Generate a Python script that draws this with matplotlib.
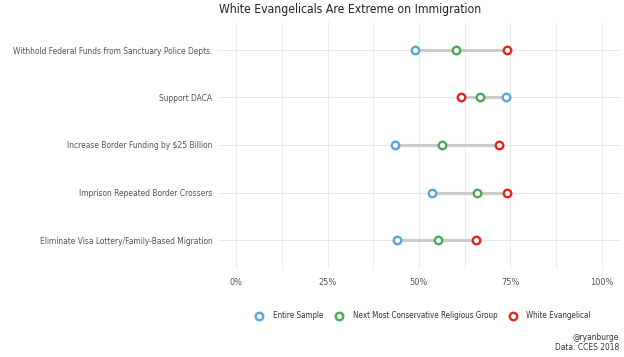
import matplotlib
matplotlib.use('Agg')
import matplotlib.pyplot as plt
from matplotlib.lines import Line2D

plt.rcParams['font.family'] = ['DejaVu Sans']
plt.rcParams['font.stretch'] = 'condensed'

# ── Data ─────────────────────────────────────────────────────────────────────
questions = [
    'Withhold Federal Funds from Sanctuary Police Depts.',
    'Support DACA',
    'Increase Border Funding by $25 Billion',
    'Imprison Repeated Border Crossers',
    'Eliminate Visa Lottery/Family-Based Migration',
]
entire_sample = [48.8, 73.8, 43.5, 53.6, 44.1]
next_conservative = [60.1, 66.6, 56.4, 66.0, 55.2]
white_evangelical = [74.0, 61.5, 72.0, 74.0, 65.5]

series_names = ['Entire Sample', 'Next Most Conservative Religious Group',
                'White Evangelical']
series_colors = ['#55a8d6', '#4ea65a', '#e0261f']
tick_vals = [0, 25, 50, 75, 100]
tick_labels = ['0%', '25%', '50%', '75%', '100%']

# ── Figure ───────────────────────────────────────────────────────────────────
fig = plt.figure(figsize=(6.24, 3.57), dpi=100)
ax = fig.add_axes([218 / 624, 1 - 268.5 / 357, 402 / 624, 247 / 357])

ypos = list(range(len(questions)))[::-1]
all_series = [entire_sample, next_conservative, white_evangelical]

for i, y in enumerate(ypos):
    vals = [s[i] for s in all_series]
    ax.plot([min(vals), max(vals)], [y, y], color='#cbcbcb', lw=2.2,
            solid_capstyle='butt', zorder=2)
for vals, col in zip(all_series, series_colors):
    ax.plot(vals, ypos, 'o', ms=5.4, mfc='white', mec=col, mew=1.7,
            linestyle='none', zorder=3)

ax.set_xlim(-5, 105)
ax.set_ylim(-0.6, len(questions) - 0.4)
ax.set_xticks(tick_vals)
ax.set_xticklabels(tick_labels)
ax.set_xticks([12.5, 37.5, 62.5, 87.5], minor=True)
ax.set_yticks(ypos)
ax.set_yticklabels(questions)

ax.grid(True, which='both', axis='x', color='#ececec', lw=0.7, zorder=0)
ax.grid(True, which='major', axis='y', color='#e4e4e4', lw=0.6, zorder=0)
for sp in ax.spines.values():
    sp.set_visible(False)
ax.tick_params(axis='both', which='both', length=0, labelsize=6.0,
               labelcolor='#555555')
ax.tick_params(axis='x', pad=7, labelsize=6.6)
ax.tick_params(axis='y', pad=4)

fig.text(350 / 624, 1 - 10 / 357, 'White Evangelicals Are Extreme on Immigration',
         ha='center', va='center', fontsize=8.7, color='#222222')

handles = [Line2D([0], [0], marker='o', ms=5.4, mfc='white', mec=c, mew=1.7,
                  linestyle='none') for c in series_colors]
fig.legend(handles, series_names, loc='center', ncol=3, frameon=False,
           bbox_to_anchor=(421 / 624, 1 - 316 / 357), fontsize=5.8,
           handletextpad=0.7, columnspacing=0.9, labelcolor='#333333')

fig.text(619 / 624, 1 - 342.5 / 357, '@ryanburge\nData: CCES 2018',
         ha='right', va='center', fontsize=6.0, color='#333333',
         linespacing=1.05)

fig.savefig('out.png', dpi=100, facecolor='white')
